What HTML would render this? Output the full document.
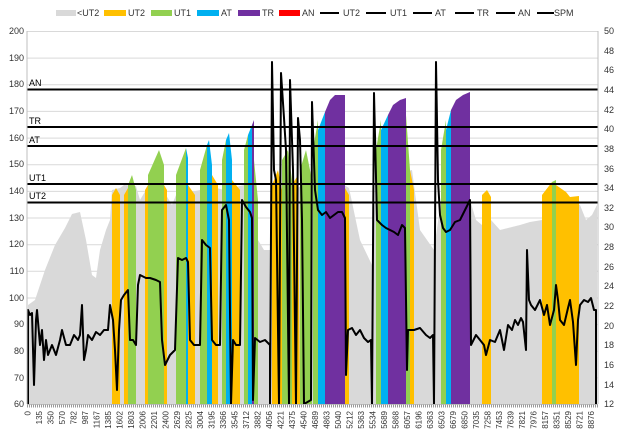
<!DOCTYPE html>
<html><head><meta charset="utf-8"><style>
body{margin:0;background:#fff;}
svg{display:block;font-family:"Liberation Sans",sans-serif;}
</style></head><body>
<svg width="620" height="443" viewBox="0 0 620 443">
<rect width="620" height="443" fill="#fff"/>
<!-- gridlines -->
<g stroke="#d9d9d9" stroke-width="1">
<line x1="27" y1="31.5" x2="598" y2="31.5"/><line x1="27" y1="58.1" x2="598" y2="58.1"/><line x1="27" y1="84.8" x2="598" y2="84.8"/><line x1="27" y1="111.4" x2="598" y2="111.4"/><line x1="27" y1="138.1" x2="598" y2="138.1"/><line x1="27" y1="164.7" x2="598" y2="164.7"/><line x1="27" y1="191.4" x2="598" y2="191.4"/><line x1="27" y1="218" x2="598" y2="218"/><line x1="27" y1="244.7" x2="598" y2="244.7"/><line x1="27" y1="271.3" x2="598" y2="271.3"/><line x1="27" y1="298" x2="598" y2="298"/><line x1="27" y1="324.6" x2="598" y2="324.6"/><line x1="27" y1="351.3" x2="598" y2="351.3"/><line x1="27" y1="377.9" x2="598" y2="377.9"/>
</g>
<!-- gray envelope -->
<polygon fill="#d9d9d9" points="27,404 28,305 35,300 45,270 55,245 65,228 72,214 80,212 86,240 92,275 96,278 100,250 106,230 110,220 112,190 120,188 124,185 136,186 140,200 146,190 166,195 172,205 176,195 200,190 206,185 224,190 244,185 258,240 264,250 270,250 276,200 312,180 320,170 349,188 360,240 372,265 376,180 412,170 420,230 434,250 441,200 470,200 476,220 482,225 491,220 500,230 520,225 530,222 542,220 556,190 580,205 586,220 592,215 597,205 597,404"/>
<!-- orange -->
<g fill="#ffc000">
<polygon points="112,404 112,195 116,188 120,195 120,404"/>
<polygon points="124,404 124,195 128,188 128,404"/>
<polygon points="145,404 145,190 148,185 148,404"/>
<polygon points="164,404 164,185 167,190 167,404"/>
<polygon points="188,404 188,185 195,195 195,404"/>
<polygon points="212,404 212,175 218,185 218,404"/>
<polygon points="232,404 232,180 240,190 240,404"/>
<polygon points="272,404 272,185 278,170 282,190 282,404"/>
<polygon points="292,404 292,185 298,175 300,404"/>
<polygon points="345,404 345,188 349,195 349,404"/>
<polygon points="410,404 410,170 414,190 414,404"/>
<polygon points="482,404 482,195 487,190 491,197 491,404"/>
<polygon points="542,404 542,195 552,182 556,185 566,192 570,197 579,196 579,404"/>
</g>
<!-- green -->
<g fill="#92d050">
<polygon points="128,404 128,185 132,175 136,190 136,404"/>
<polygon points="148,404 148,175 159,150 164,165 164,404"/>
<polygon points="176,404 176,175 186,148 186,404"/>
<polygon points="200,404 200,170 207,145 207,404"/>
<polygon points="222,404 222,160 226,140 226,404"/>
<polygon points="244,404 244,150 248,135 248,404"/>
<polygon points="252,404 252,140 258,200 258,404"/>
<polygon points="282,404 282,160 288,150 292,180 292,404"/>
<polygon points="300,404 300,170 306,150 312,180 312,404"/>
<polygon points="313,404 313,150 318,120 318,404"/>
<polygon points="376,404 376,150 381,120 381,404"/>
<polygon points="406,404 406,115 410,170 410,404"/>
<polygon points="441,404 441,150 446,120 446,404"/>
<polygon points="552,404 552,182 556,180 556,404"/>
</g>
<!-- blue -->
<g fill="#00b0f0">
<polygon points="186,404 186,148 188,158 188,404"/>
<polygon points="207,404 207,145 209,140 212,165 212,404"/>
<polygon points="226,404 226,140 229,133 232,160 232,404"/>
<polygon points="248,404 248,135 252,125 252,404"/>
<polygon points="318,404 318,130 325,112 325,404"/>
<polygon points="381,404 381,130 388,115 388,404"/>
<polygon points="446,404 446,130 451,110 451,404"/>
</g>
<!-- purple -->
<g fill="#7030a0">
<polygon points="252,404 252,125 254,120 254,404"/>
<polygon points="325,404 325,112 330,100 335,95 345,95 345,404"/>
<polygon points="388,404 388,115 393,105 400,100 406,98 406,404"/>
<polygon points="451,404 451,110 456,100 463,95 470,92 470,404"/>
</g>
<!-- zone lines -->
<g stroke="#000" stroke-width="2">
<line x1="27" y1="89.5" x2="598" y2="89.5"/>
<line x1="27" y1="127" x2="598" y2="127"/>
<line x1="27" y1="146" x2="598" y2="146"/>
<line x1="27" y1="184" x2="598" y2="184"/>
<line x1="27" y1="202.5" x2="598" y2="202.5"/>
</g>
<g font-size="9" fill="#000">
<text x="29" y="86">AN</text><text x="29" y="124">TR</text><text x="29" y="143">AT</text><text x="29" y="181">UT1</text><text x="29" y="199">UT2</text>
</g>
<!-- HR line -->
<polyline fill="none" stroke="#000" stroke-width="2" stroke-linejoin="round" points="28,404 28,310 30,315 32,313 34,385 36,320 37,310 40,345 42,330 44,360 46,340 48,355 52,345 56,355 60,340 62,330 66,345 70,345 74,335 78,340 80,335 82,305 84,360 86,350 88,335 92,340 96,332 100,335 104,330 108,330 110,305 113,320 115,350 117,390 119,330 121,300 124,295 128,290 130,340 133,340 136,345 138,285 140,275 146,278 150,278 156,280 160,282 162,340 165,365 170,355 175,350 178,258 182,260 186,258 188,262 190,340 194,345 200,345 202,240 206,245 210,248 212,340 216,345 220,345 222,210 226,205 229,220 231,404 233,340 236,345 240,345 242,200 246,207 250,212 252,218 253,400 255,338 260,342 265,340 270,345 270,404 272,62 274,170 276,180 279,404 281,73 284,118 286,150 289,404 290,80 293,170 296,404 298,118 300,140 302,220 304,404 311,400 312,102 315,190 318,210 322,215 326,212 330,218 334,215 338,212 342,212 345,218 346,375 348,330 352,328 356,335 360,330 364,338 368,342 371,340 372,404 374,93 377,220 382,225 386,228 390,230 394,232 398,235 402,225 405,228 407,370 408,330 414,330 420,328 426,335 430,338 433,335 434,404 436,62 438,180 440,215 443,228 446,232 450,230 455,222 460,220 465,210 470,200 471,345 476,335 480,340 484,345 486,355 490,340 495,342 500,330 504,350 508,325 512,330 515,320 518,325 521,318 523,322 526,350 527,250 529,300 531,305 535,310 540,300 544,315 547,305 550,325 554,310 556,285 558,300 560,320 564,325 568,308 570,300 573,322 576,365 578,320 580,305 584,300 588,302 591,298 594,310 596,310 596,404"/>
<!-- axes -->
<line x1="27" y1="31" x2="27" y2="404" stroke="#bfbfbf"/>
<line x1="598" y1="31" x2="598" y2="404" stroke="#bfbfbf"/>
<line x1="27" y1="404.5" x2="598" y2="404.5" stroke="#bfbfbf"/>
<!-- ticks bottom -->
<line x1="27" y1="406" x2="598" y2="406" stroke="#999" stroke-width="3" stroke-dasharray="1 1"/>
<g font-size="9" fill="#333" text-anchor="end">
<text x="24" y="34">200</text><text x="24" y="61">190</text><text x="24" y="87">180</text><text x="24" y="114">170</text><text x="24" y="141">160</text><text x="24" y="167">150</text><text x="24" y="194">140</text><text x="24" y="221">130</text><text x="24" y="247">120</text><text x="24" y="274">110</text><text x="24" y="301">100</text><text x="24" y="327">90</text><text x="24" y="354">80</text><text x="24" y="381">70</text><text x="24" y="407">60</text>
</g>
<g font-size="9" fill="#333">
<text x="604" y="34">50</text><text x="604" y="54">48</text><text x="604" y="73">46</text><text x="604" y="93">44</text><text x="604" y="113">42</text><text x="604" y="132">40</text><text x="604" y="152">38</text><text x="604" y="172">36</text><text x="604" y="191">34</text><text x="604" y="211">32</text><text x="604" y="230">30</text><text x="604" y="250">28</text><text x="604" y="270">26</text><text x="604" y="289">24</text><text x="604" y="309">22</text><text x="604" y="329">20</text><text x="604" y="348">18</text><text x="604" y="368">16</text><text x="604" y="388">14</text><text x="604" y="407">12</text>
</g>
<g font-size="8" fill="#333" text-anchor="end">
<text transform="translate(30.5,411) rotate(-90)">0</text>
<text transform="translate(42,411) rotate(-90)">135</text>
<text transform="translate(53.5,411) rotate(-90)">350</text>
<text transform="translate(65,411) rotate(-90)">570</text>
<text transform="translate(76.5,411) rotate(-90)">782</text>
<text transform="translate(88,411) rotate(-90)">987</text>
<text transform="translate(99.5,411) rotate(-90)">1167</text>
<text transform="translate(111,411) rotate(-90)">1385</text>
<text transform="translate(122.5,411) rotate(-90)">1602</text>
<text transform="translate(134,411) rotate(-90)">1803</text>
<text transform="translate(145.5,411) rotate(-90)">2006</text>
<text transform="translate(157,411) rotate(-90)">2201</text>
<text transform="translate(168.5,411) rotate(-90)">2400</text>
<text transform="translate(180,411) rotate(-90)">2629</text>
<text transform="translate(191.5,411) rotate(-90)">2825</text>
<text transform="translate(203,411) rotate(-90)">3004</text>
<text transform="translate(214.5,411) rotate(-90)">3195</text>
<text transform="translate(226,411) rotate(-90)">3366</text>
<text transform="translate(237.5,411) rotate(-90)">3545</text>
<text transform="translate(249,411) rotate(-90)">3712</text>
<text transform="translate(260.5,411) rotate(-90)">3882</text>
<text transform="translate(272,411) rotate(-90)">4056</text>
<text transform="translate(283.5,411) rotate(-90)">4221</text>
<text transform="translate(295,411) rotate(-90)">4375</text>
<text transform="translate(306.5,411) rotate(-90)">4540</text>
<text transform="translate(318,411) rotate(-90)">4689</text>
<text transform="translate(329.5,411) rotate(-90)">4863</text>
<text transform="translate(341,411) rotate(-90)">5040</text>
<text transform="translate(352.5,411) rotate(-90)">5212</text>
<text transform="translate(364,411) rotate(-90)">5363</text>
<text transform="translate(375.5,411) rotate(-90)">5534</text>
<text transform="translate(387,411) rotate(-90)">5689</text>
<text transform="translate(398.5,411) rotate(-90)">5868</text>
<text transform="translate(410,411) rotate(-90)">6057</text>
<text transform="translate(421.5,411) rotate(-90)">6196</text>
<text transform="translate(433,411) rotate(-90)">6363</text>
<text transform="translate(444.5,411) rotate(-90)">6503</text>
<text transform="translate(456,411) rotate(-90)">6679</text>
<text transform="translate(467.5,411) rotate(-90)">6850</text>
<text transform="translate(479,411) rotate(-90)">7035</text>
<text transform="translate(490.5,411) rotate(-90)">7258</text>
<text transform="translate(502,411) rotate(-90)">7453</text>
<text transform="translate(513.5,411) rotate(-90)">7639</text>
<text transform="translate(525,411) rotate(-90)">7821</text>
<text transform="translate(536.5,411) rotate(-90)">7976</text>
<text transform="translate(548,411) rotate(-90)">8157</text>
<text transform="translate(559.5,411) rotate(-90)">8351</text>
<text transform="translate(571,411) rotate(-90)">8529</text>
<text transform="translate(582.5,411) rotate(-90)">8721</text>
<text transform="translate(594,411) rotate(-90)">8876</text>
</g>
<!-- legend -->
<g font-size="9" fill="#333">
<rect x="56" y="10" width="20" height="6" fill="#d9d9d9"/><text x="77" y="16">&lt;UT2</text>
<rect x="104" y="10" width="22" height="6" fill="#ffc000"/><text x="128" y="16">UT2</text>
<rect x="151" y="10" width="21" height="6" fill="#92d050"/><text x="174" y="16">UT1</text>
<rect x="197" y="10" width="22" height="6" fill="#00b0f0"/><text x="221" y="16">AT</text>
<rect x="238" y="10" width="22" height="6" fill="#7030a0"/><text x="262" y="16">TR</text>
<rect x="279" y="10" width="21" height="6" fill="#ff0000"/><text x="302" y="16">AN</text>
<g stroke="#000" stroke-width="2"><line x1="320" y1="13" x2="339" y2="13"/><line x1="366" y1="13" x2="386" y2="13"/><line x1="413" y1="13" x2="432" y2="13"/><line x1="455" y1="13" x2="474" y2="13"/><line x1="496" y1="13" x2="515" y2="13"/><line x1="537" y1="13" x2="554" y2="13"/></g>
<text x="343" y="16">UT2</text><text x="390" y="16">UT1</text><text x="435" y="16">AT</text><text x="477" y="16">TR</text><text x="518" y="16">AN</text><text x="554" y="16">SPM</text>
</g>
</svg>
</body></html>
